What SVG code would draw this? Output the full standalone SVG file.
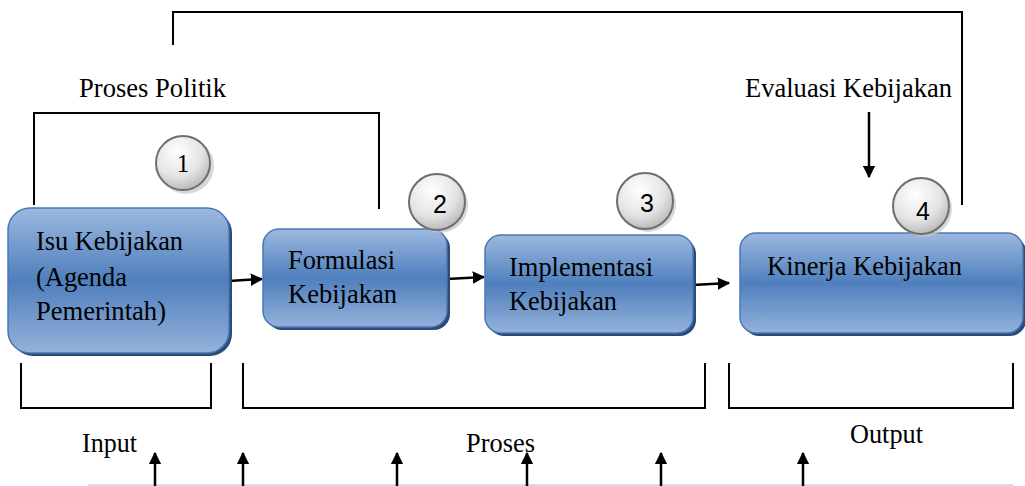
<svg xmlns="http://www.w3.org/2000/svg" width="1025" height="486" viewBox="0 0 1025 486">
<defs>
<linearGradient id="boxg" x1="0" y1="0" x2="0" y2="1">
<stop offset="0" stop-color="#9cb9df"/>
<stop offset="0.5" stop-color="#4f7fbd"/>
<stop offset="1" stop-color="#94b2da"/>
</linearGradient>
<radialGradient id="circg" cx="0.4" cy="0.3" r="0.75">
<stop offset="0" stop-color="#ffffff"/>
<stop offset="0.6" stop-color="#e4e4e4"/>
<stop offset="1" stop-color="#b4b4b4"/>
</radialGradient>
<marker id="ah" viewBox="0 0 10 10" refX="9" refY="5" markerWidth="5" markerHeight="5" orient="auto" markerUnits="strokeWidth">
<path d="M0,0 L10,5 L0,10 z" fill="#000"/>
</marker>
</defs>
<style>
.box{fill:url(#boxg);stroke:#4a78b4;stroke-width:1.5}
.shadow{fill:#2c4a78}
.circ{fill:url(#circg);stroke:#6e6e6e;stroke-width:2}
.cshadow{fill:#c8c8c8;opacity:0.7}
.t{font-family:"Liberation Serif","Times New Roman",serif;font-size:26.5px;fill:#000}
.d{font-family:"Liberation Sans",Arial,sans-serif;font-size:25px;fill:#000;text-anchor:middle}
.ln{fill:none;stroke:#000;stroke-width:2}
.ar{fill:none;stroke:#000;stroke-width:2.5;marker-end:url(#ah)}
</style>
<rect width="1025" height="486" fill="#fff"/>

<g id="connectors">
<polyline class="ln" points="173,45 173,12 962,12 962,205"/>
<polyline class="ln" points="34,205 34,113 379,113 379,209"/>
<line class="ar" x1="229" y1="281" x2="262" y2="279"/>
<line class="ar" x1="447" y1="279" x2="484" y2="277"/>
<line class="ar" x1="693" y1="285" x2="729" y2="283"/>
<line class="ar" x1="869" y1="112" x2="869" y2="177"/>
<polyline class="ln" points="21,363 21,408 211,408 211,363"/>
<polyline class="ln" points="243,363 243,408 705,408 705,363"/>
<polyline class="ln" points="729,363 729,408 1013,408 1013,363"/>
<line x1="88" y1="485" x2="1013" y2="485" stroke="#d0d0d0" stroke-width="1.5"/>
<line class="ar" x1="155" y1="486" x2="155" y2="453"/>
<line class="ar" x1="243" y1="486" x2="243" y2="453"/>
<line class="ar" x1="397" y1="486" x2="397" y2="453"/>
<line class="ar" x1="527" y1="486" x2="527" y2="453"/>
<line class="ar" x1="661" y1="486" x2="661" y2="453"/>
<line class="ar" x1="803" y1="486" x2="803" y2="453"/>
</g>

<g id="labels">
<text class="t" x="79" y="97" textLength="147" lengthAdjust="spacingAndGlyphs">Proses Politik</text>
<text class="t" x="745" y="97" textLength="207" lengthAdjust="spacingAndGlyphs">Evaluasi Kebijakan</text>
<text class="t" x="82" y="452" textLength="55" lengthAdjust="spacingAndGlyphs">Input</text>
<text class="t" x="466" y="452" textLength="69" lengthAdjust="spacingAndGlyphs">Proses</text>
<text class="t" x="850" y="443" textLength="73" lengthAdjust="spacingAndGlyphs">Output</text>
</g>

<g id="node-isu">
<rect class="shadow" x="11" y="211" width="221" height="145" rx="22"/>
<rect class="box" x="8" y="208" width="221" height="145" rx="22"/>
<text class="t" x="36" y="250" textLength="147" lengthAdjust="spacingAndGlyphs">Isu Kebijakan</text>
<text class="t" x="36" y="286" textLength="91" lengthAdjust="spacingAndGlyphs">(Agenda</text>
<text class="t" x="36" y="320" textLength="130" lengthAdjust="spacingAndGlyphs">Pemerintah)</text>
</g>

<g id="node-formulasi">
<rect class="shadow" x="266" y="232" width="184" height="98" rx="16"/>
<rect class="box" x="263" y="229" width="184" height="98" rx="16"/>
<text class="t" x="288" y="269" textLength="107" lengthAdjust="spacingAndGlyphs">Formulasi</text>
<text class="t" x="288" y="303" textLength="109" lengthAdjust="spacingAndGlyphs">Kebijakan</text>
</g>

<g id="node-implementasi">
<rect class="shadow" x="488" y="238" width="208" height="98" rx="16"/>
<rect class="box" x="485" y="235" width="208" height="98" rx="16"/>
<text class="t" x="509" y="276" textLength="144" lengthAdjust="spacingAndGlyphs">Implementasi</text>
<text class="t" x="509" y="310" textLength="108" lengthAdjust="spacingAndGlyphs">Kebijakan</text>
</g>

<g id="node-kinerja">
<rect class="shadow" x="743" y="236" width="283" height="100" rx="16"/>
<rect class="box" x="740" y="233" width="283" height="100" rx="16"/>
<text class="t" x="767" y="275" textLength="195" lengthAdjust="spacingAndGlyphs">Kinerja Kebijakan</text>
</g>

<g id="badge-1">
<circle class="cshadow" cx="186" cy="166" r="28"/>
<circle class="circ" cx="183" cy="163" r="27"/>
<text class="t" x="183" y="172" text-anchor="middle" style="font-size:25px">1</text>
</g>
<g id="badge-2">
<circle class="cshadow" cx="440" cy="205" r="28"/>
<circle class="circ" cx="437" cy="202" r="28"/>
<text class="d" x="440" y="213">2</text>
</g>
<g id="badge-3">
<circle class="cshadow" cx="648" cy="204" r="28"/>
<circle class="circ" cx="645" cy="201" r="28"/>
<text class="d" x="647" y="212">3</text>
</g>
<g id="badge-4">
<circle class="cshadow" cx="924" cy="209" r="28"/>
<circle class="circ" cx="921" cy="206" r="28"/>
<text class="d" x="923" y="220">4</text>
</g>
</svg>
